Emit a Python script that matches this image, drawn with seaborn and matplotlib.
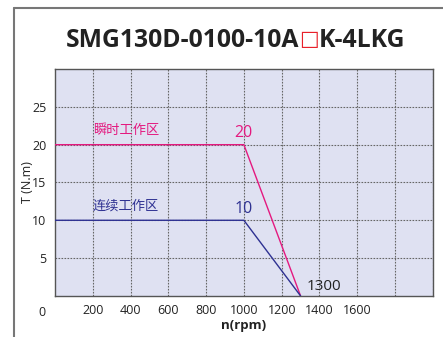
import numpy as np
import pandas as pd
import matplotlib
matplotlib.use("Agg")
import matplotlib.pyplot as plt
from matplotlib.lines import Line2D
import seaborn as sns

# ── Data ──────────────────────────────────────────────────────────────────────
speed_rpm = [0, 1000, 1300]
torque_peak = [20, 20, 0]      # 瞬时工作区
torque_cont = [10, 10, 0]      # 连续工作区
x_ticks = [200, 400, 600, 800, 1000, 1200, 1400, 1600]
y_ticks = [5, 10, 15, 20, 25]
title_parts = [("SMG130D-0100-10A", "#222222", "bold"),
               ("\u25a1", "#e8202a", "normal"),
               ("K-4LKG", "#222222", "bold")]

PINK = "#e4197f"
NAVY = "#2e3192"
BG = "#dfe1f2"

sns.set_style("white", {"axes.facecolor": BG})
plt.rcParams["font.family"] = ["Open Sans", "Noto Sans CJK SC", "DejaVu Sans"]

fig = plt.figure(figsize=(4.43, 3.37), dpi=100)
ax = fig.add_axes([0.124, 0.122, 0.853, 0.673])

df = pd.DataFrame({
    "n": speed_rpm * 2,
    "T": torque_peak + torque_cont,
    "zone": ["peak"] * 3 + ["cont"] * 3,
})
sns.lineplot(data=df, x="n", y="T", hue="zone", palette={"peak": PINK, "cont": NAVY},
             linewidth=1.0, legend=False, ax=ax, zorder=3)

ax.set_xlim(0, 2000)
ax.set_ylim(0, 30)
ax.set_xticks(range(200, 2001, 200))
ax.set_xticklabels([str(t) if t in x_ticks else "" for t in range(200, 2001, 200)])
ax.set_yticks(range(5, 30, 5))
ax.set_yticklabels([str(t) for t in y_ticks])
ax.tick_params(length=0, labelsize=9, colors="#222222", pad=6)
ax.grid(True, color="#666666", linestyle=(0, (1.5, 1.2)), linewidth=0.8)
for s in ax.spines.values():
    s.set_color("#555555")
    s.set_linewidth(1.0)

ax.set_xlabel("n(rpm)", fontsize=9.5, fontweight="bold", color="#222222", labelpad=1)
ax.set_ylabel("T (N.m)", fontsize=9, color="#222222", labelpad=-1)
ax.text(-0.035, -0.045, "0", transform=ax.transAxes, ha="center", va="top",
        fontsize=9, color="#222222")

# zone labels
ax.text(200, 21.0, "瞬时工作区", color=PINK, fontsize=9.5, ha="left", va="bottom",
        family=["Noto Sans CJK SC", "DejaVu Sans"])
ax.text(200, 11.0, "连续工作区", color=NAVY, fontsize=9.5, ha="left", va="bottom",
        family=["Noto Sans CJK SC", "DejaVu Sans"])
ax.text(1000, 20.5, "20", color=PINK, fontsize=11.5, ha="center", va="bottom")
ax.text(1000, 10.5, "10", color=NAVY, fontsize=11.5, ha="center", va="bottom")
ax.text(1330, 0.3, "1300", color="#222222", fontsize=11, ha="left", va="bottom")

# title, with the box glyph in red
fig.canvas.draw()
r = fig.canvas.get_renderer()
TITLE_Y = 0.881


def _title_text(x, txt, c, w):
    if w == "normal":
        return fig.text(x, TITLE_Y + 0.003, txt, fontsize=15, color=c,
                        family=["DejaVu Sans"], ha="left", va="center")
    return fig.text(x, TITLE_Y, txt, fontsize=17.8, fontweight=w, color=c,
                    family=["Open Sans", "DejaVu Sans"], ha="left", va="center")


widths = []
for txt, c, w in title_parts:
    tt = _title_text(0, txt, c, w)
    widths.append(tt.get_window_extent(r).width / fig.bbox.width)
    tt.remove()
xs = 0.532 - sum(widths) / 2
for (txt, c, w), wd in zip(title_parts, widths):
    _title_text(xs, txt, c, w)
    xs += wd

# page frame lines (top and left)
fig.add_artist(Line2D([0.032, 1.0], [0.976, 0.976], color="#777777", linewidth=1.5))
fig.add_artist(Line2D([0.032, 0.032], [0.0, 0.976], color="#777777", linewidth=1.5))

fig.savefig("out.png", dpi=100)
